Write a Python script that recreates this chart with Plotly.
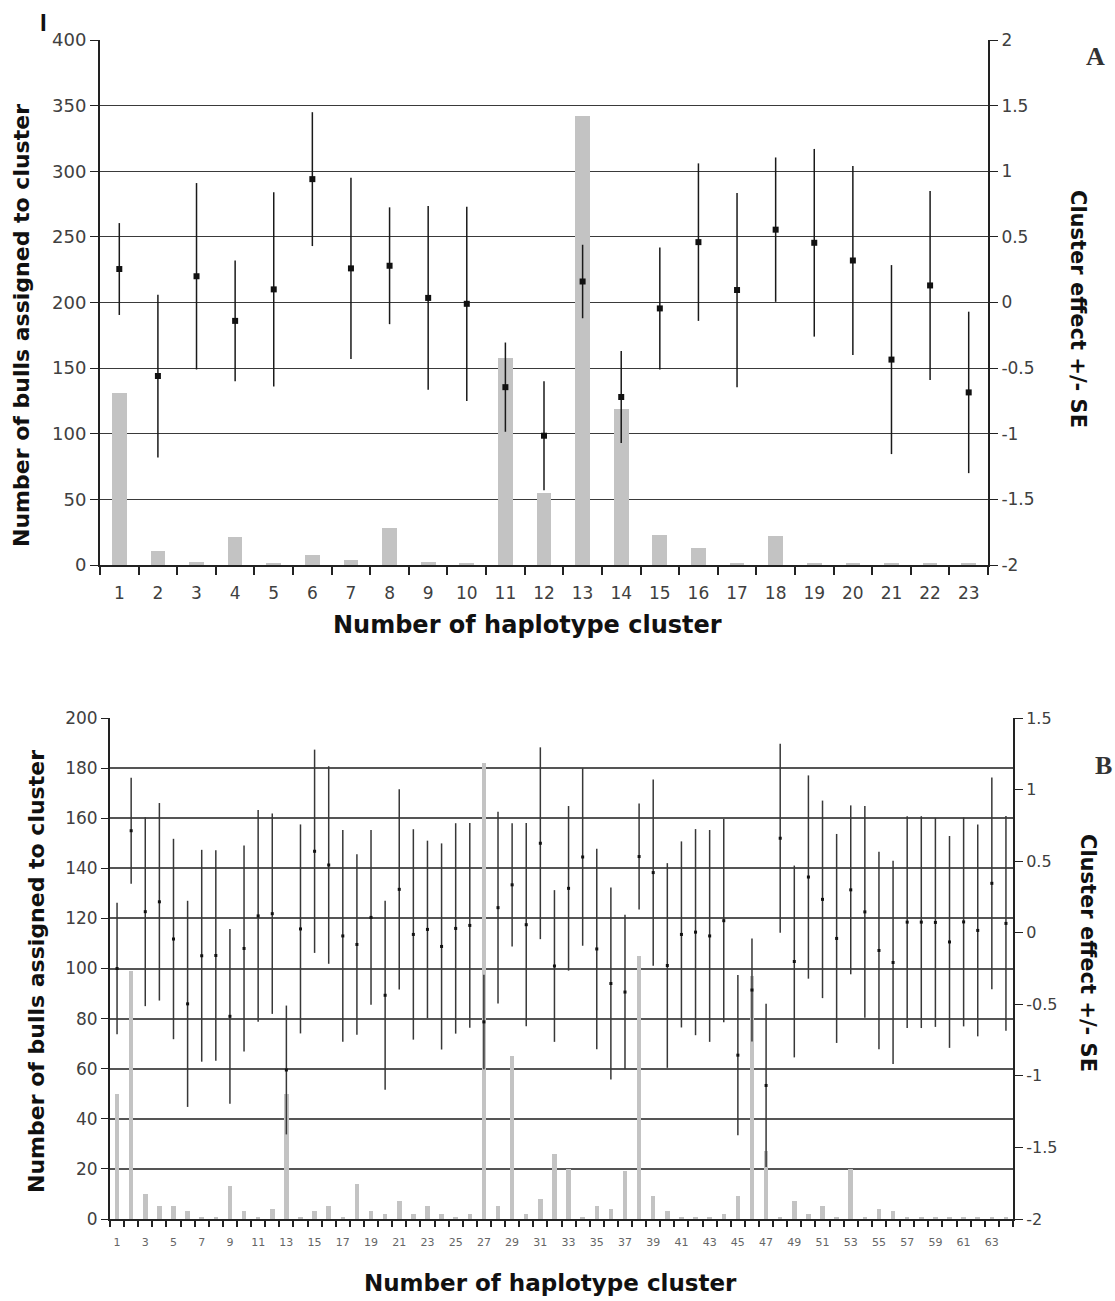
import plotly.graph_objects as go

W, H = 1115, 1301

# ---------------- Panel A data ----------------
clusters_a = list(range(1, 24))
bulls_a = [131, 11, 2, 21, 1, 8, 4, 28, 2, 1, 158, 55, 342, 119, 23, 13, 1, 22, 1, 1, 1, 1, 1]
effect_a = [0.255, -0.56, 0.20, -0.14, 0.10, 0.94, 0.26, 0.28, 0.035, -0.01, -0.645, -1.015,
            0.16, -0.72, -0.045, 0.46, 0.095, 0.555, 0.455, 0.32, -0.435, 0.13, -0.685]
se_a = [0.35, 0.62, 0.71, 0.46, 0.74, 0.51, 0.69, 0.445, 0.70, 0.74, 0.34, 0.415,
        0.28, 0.35, 0.465, 0.60, 0.74, 0.55, 0.715, 0.72, 0.72, 0.72, 0.615]

# ---------------- Panel B data ----------------
clusters_b = list(range(1, 65))
bulls_b = [50, 99, 10, 5, 5, 3, 1, 1, 13, 3, 1, 4, 50, 1, 3, 5, 1, 14, 3, 2,
           7, 2, 5, 2, 1, 2, 182, 5, 65, 2, 8, 26, 20, 1, 5, 4, 19, 105, 9, 3,
           1, 1, 1, 2, 9, 97, 27, 1, 7, 2, 5, 1, 20, 1, 4, 3, 1, 1, 1, 1,
           1, 1, 1, 1]
effect_b = [-0.25, 0.7125, 0.147, 0.216, -0.044, -0.497, -0.161, -0.159, -0.584, -0.11,
            0.1175, 0.133, -0.959, 0.0265, 0.569, 0.473, -0.0225, -0.082, 0.107, -0.437,
            0.303, -0.012, 0.023, -0.096, 0.03, 0.051, -0.623, 0.175, 0.3345, 0.056,
            0.625, -0.2325, 0.31, 0.529, -0.1135, -0.355, -0.4145, 0.532, 0.42, -0.229,
            -0.012, 0.004, -0.0225, 0.084, -0.8555, -0.4005, -1.067, 0.66, -0.201, 0.389,
            0.233, -0.04, 0.2995, 0.1455, -0.124, -0.208, 0.074, 0.074, 0.072, -0.0645,
            0.0755, 0.016, 0.345, 0.065]
se_b = [0.46, 0.37, 0.66, 0.69, 0.70, 0.72, 0.74, 0.735, 0.61, 0.72,
        0.74, 0.70, 0.45, 0.73, 0.71, 0.69, 0.74, 0.63, 0.61, 0.66,
        0.70, 0.735, 0.62, 0.72, 0.735, 0.715, 0.33, 0.67, 0.43, 0.71,
        0.67, 0.53, 0.575, 0.62, 0.70, 0.67, 0.54, 0.37, 0.65, 0.715,
        0.65, 0.72, 0.74, 0.71, 0.56, 0.36, 0.57, 0.66, 0.67, 0.71,
        0.69, 0.73, 0.59, 0.74, 0.69, 0.71, 0.74, 0.74, 0.73, 0.74,
        0.73, 0.74, 0.74, 0.75]

# ---------------- tick labels ----------------
left_ticks_a = [0, 50, 100, 150, 200, 250, 300, 350, 400]
right_ticks_a = [-2, -1.5, -1, -0.5, 0, 0.5, 1, 1.5, 2]
right_text_a = ["-2", "-1.5", "-1", "-0.5", "0", "0.5", "1", "1.5", "2"]
left_ticks_b = [0, 20, 40, 60, 80, 100, 120, 140, 160, 180, 200]
right_ticks_b = [-2, -1.5, -1, -0.5, 0, 0.5, 1, 1.5]
right_text_b = ["-2", "-1.5", "-1", "-0.5", "0", "0.5", "1", "1.5"]
xlabels_b = [c for c in clusters_b if c % 2 == 1]

y_title = "Number of bulls assigned to cluster"
y2_title = "Cluster effect +/- SE"
x_title = "Number of haplotype cluster"


def px(x):
    return x / W


def py(y):
    return 1 - y / H


FONT = "DejaVu Sans, Verdana, sans-serif"
BAR_COLOR = "#c3c3c3"
TICK_COLOR = "#404040"
AXIS_COLOR = "#222222"

fig = go.Figure()

fig.add_trace(go.Bar(x=clusters_a, y=bulls_a, width=0.38, marker=dict(color=BAR_COLOR, line=dict(width=0)),
                     xaxis="x", yaxis="y", showlegend=False))
fig.add_trace(go.Scatter(x=clusters_a, y=effect_a, mode="markers",
                         marker=dict(symbol="square", size=6, color="#111111"),
                         error_y=dict(type="data", array=se_a, width=0, thickness=1.5, color="#1a1a1a"),
                         xaxis="x", yaxis="y2", showlegend=False))

fig.add_trace(go.Bar(x=clusters_b, y=bulls_b, width=0.32, marker=dict(color=BAR_COLOR, line=dict(width=0)),
                     xaxis="x2", yaxis="y3", showlegend=False))
fig.add_trace(go.Scatter(x=clusters_b, y=effect_b, mode="markers",
                         marker=dict(symbol="square", size=3, color="#111111"),
                         error_y=dict(type="data", array=se_b, width=0, thickness=1.5, color="#383838"),
                         xaxis="x2", yaxis="y4", showlegend=False))

common_x = dict(showgrid=False, zeroline=False, showline=True, linecolor=AXIS_COLOR, linewidth=1.5,
                ticks="outside", tickcolor="rgba(0,0,0,0)", tickmode="array", automargin=False)

fig.update_layout(
    template="none",
    width=W, height=H,
    autosize=False,
    margin=dict(l=0, r=0, t=0, b=0, pad=0),
    paper_bgcolor="white", plot_bgcolor="white",
    font=dict(family=FONT, color=TICK_COLOR),
    bargap=0,
    xaxis=dict(domain=[px(100), px(988)], anchor="y", range=[0.5, 23.5],
               tickvals=clusters_a, ticktext=[str(c) for c in clusters_a], ticklen=12,
               tickfont=dict(size=17, color=TICK_COLOR),
               minor=dict(ticks="outside", tickvals=[c - 0.5 for c in clusters_a] + [clusters_a[-1] + 0.5],
                          ticklen=8, tickwidth=1.5, tickcolor=AXIS_COLOR, showgrid=False),
               **common_x),
    yaxis=dict(domain=[py(565), py(40)], anchor="x", range=[0, 400], automargin=False,
               tickmode="array", tickvals=left_ticks_a, ticks="outside", ticklen=8, tickcolor=AXIS_COLOR,
               showgrid=True, gridcolor="#3a3a3a", gridwidth=1, zeroline=False,
               showline=True, linecolor=AXIS_COLOR, linewidth=2,
               tickfont=dict(size=18, color=TICK_COLOR)),
    yaxis2=dict(overlaying="y", side="right", anchor="x", range=[-2, 2], automargin=False,
                tickmode="array", tickvals=right_ticks_a, ticktext=right_text_a,
                ticks="outside", ticklen=8, tickcolor=AXIS_COLOR,
                showgrid=False, zeroline=False, showline=True, linecolor=AXIS_COLOR, linewidth=2,
                tickfont=dict(size=17, color=TICK_COLOR)),
    xaxis2=dict(domain=[px(110), px(1013)], anchor="y3", range=[0.5, 64.5],
                tickvals=xlabels_b, ticktext=[str(c) for c in xlabels_b], ticklen=12,
                tickfont=dict(size=11, color="#666666"),
                minor=dict(ticks="outside", tickvals=[c - 0.5 for c in clusters_b] + [clusters_b[-1] + 0.5],
                           ticklen=6, tickwidth=1.5, tickcolor=AXIS_COLOR, showgrid=False),
                **common_x),
    yaxis3=dict(domain=[py(1219), py(718)], anchor="x2", range=[0, 200], automargin=False,
                tickmode="array", tickvals=left_ticks_b, ticks="outside", ticklen=7, tickcolor=AXIS_COLOR,
                showgrid=True, gridcolor="#555555", gridwidth=1.5, zeroline=False,
                showline=True, linecolor=AXIS_COLOR, linewidth=2,
                tickfont=dict(size=17, color=TICK_COLOR)),
    yaxis4=dict(overlaying="y3", side="right", anchor="x2", range=[-2, 1.5], automargin=False,
                tickmode="array", tickvals=right_ticks_b, ticktext=right_text_b,
                ticks="outside", ticklen=8, tickcolor=AXIS_COLOR,
                showgrid=False, zeroline=False, showline=True, linecolor=AXIS_COLOR, linewidth=2,
                tickfont=dict(size=16, color=TICK_COLOR)),
)


def title_ann(text, x, y, size, angle=0):
    return dict(text="<b>%s</b>" % text, x=px(x), y=py(y), xref="paper", yref="paper",
                xanchor="center", yanchor="middle", textangle=angle, showarrow=False,
                font=dict(size=size, color="#111111", family=FONT))


ann = [
    title_ann(y_title, 22, 326, 22, -90),
    title_ann(y2_title, 1078, 309, 21, 90),
    title_ann(x_title, 527, 625, 24),
    title_ann(y_title, 36, 972, 22, -90),
    title_ann(y2_title, 1088, 953, 21, 90),
    title_ann(x_title, 550, 1283, 23),
    dict(text="<b>A</b>", x=px(1095), y=py(57), xref="paper", yref="paper", xanchor="center",
         yanchor="middle", showarrow=False, font=dict(size=26, color="#333333", family="Liberation Serif, serif")),
    dict(text="<b>B</b>", x=px(1103), y=py(766), xref="paper", yref="paper", xanchor="center",
         yanchor="middle", showarrow=False, font=dict(size=26, color="#333333", family="Liberation Serif, serif")),
    dict(text="<b>I</b>", x=px(43), y=py(22), xref="paper", yref="paper", xanchor="center",
         yanchor="middle", showarrow=False, font=dict(size=24, color="#111111", family="Liberation Sans, Arial")),
]
fig.update_layout(annotations=ann)

fig.write_html("out.html")
